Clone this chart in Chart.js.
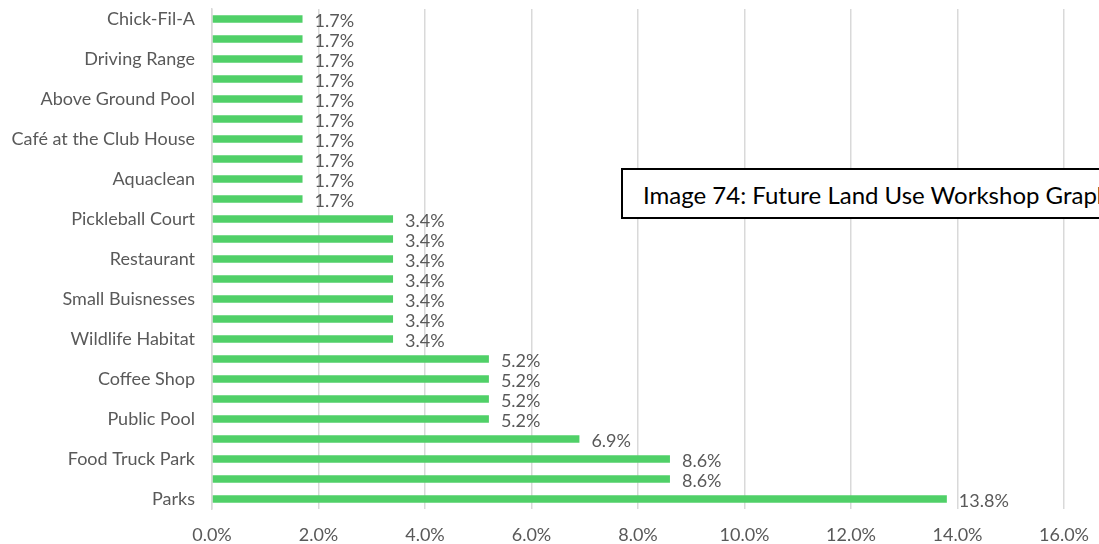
<!DOCTYPE html>
<html>
<head>
<meta charset="utf-8">
<script src="https://cdn.jsdelivr.net/npm/chart.js@4"></script>
<style>
  html, body { margin: 0; padding: 0; background: #fff; overflow: hidden; }
  #wrap { position: relative; width: 1099px; height: 544px; }
  #caption {
    position: absolute; left: 621px; top: 168px; width: 560px; height: 51px;
    border: 2px solid #000; background: #fff; box-sizing: border-box;
    font-family: Lato, "Open Sans", sans-serif; font-size: 24px; color: #000;
    padding: 10px 0 0 20px; white-space: nowrap;
  }
</style>
</head>
<body>
<div id="wrap">
  <canvas id="landUseChart" width="1099" height="544"></canvas>
  <div id="caption">Image 74: Future Land Use Workshop Graph</div>
</div>
<script>
// Responses per amenity, top to bottom (blank names are rows whose label is skipped on the axis)
const categories = [
    'Chick-Fil-A', '', 'Driving Range', '', 'Above Ground Pool', '',
    'Café at the Club House', '', 'Aquaclean', '', 'Pickleball Court', '',
    'Restaurant', '', 'Small Buisnesses', '', 'Wildlife Habitat', '',
    'Coffee Shop', '', 'Public Pool', '', 'Food Truck Park', '', 'Parks'
];
const percentages = [
    1.7, 1.7, 1.7, 1.7, 1.7, 1.7, 1.7, 1.7, 1.7, 1.7,
    3.4, 3.4, 3.4, 3.4, 3.4, 3.4, 3.4,
    5.2, 5.2, 5.2, 5.2,
    6.9, 8.6, 8.6, 13.8
];
const xTicks = [0, 2, 4, 6, 8, 10, 12, 14, 16];

const fontFamily = 'Lato, "Open Sans", sans-serif';
const fontSize = 18;
const textColor = '#595959';

// Draws the percentage just past the end of each bar
const valueLabels = {
    id: 'valueLabels',
    afterDatasetsDraw(chart) {
        const ctx = chart.ctx;
        const meta = chart.getDatasetMeta(0);
        ctx.save();
        ctx.font = fontSize + 'px ' + fontFamily;
        ctx.fillStyle = textColor;
        ctx.textAlign = 'left';
        ctx.textBaseline = 'middle';
        meta.data.forEach((bar, i) => {
            ctx.fillText(percentages[i].toFixed(1) + '%', bar.x + 12, bar.y + 2);
        });
        ctx.restore();
    }
};

const ctxLandUse = document.getElementById('landUseChart').getContext('2d');
const landUseChart = new Chart(ctxLandUse, {
    type: 'bar',
    data: {
        labels: categories,
        datasets: [{
            data: percentages,
            backgroundColor: '#50D068',
            borderWidth: 0,
            barPercentage: 0.37,
            categoryPercentage: 1
        }]
    },
    options: {
        indexAxis: 'y',
        responsive: false,
        animation: false,
        layout: { padding: { top: 9, right: 35, left: 0, bottom: 0 } },
        plugins: {
            legend: { display: false },
            tooltip: { enabled: false }
        },
        scales: {
            x: {
                min: 0,
                max: 16,
                afterBuildTicks(scale) {
                    scale.ticks = xTicks.map(v => ({ value: v }));
                },
                afterFit(scale) {
                    scale.height = 35;
                    scale.paddingLeft = 0;
                    scale.paddingRight = 0;
                },
                grid: { color: '#d9d9d9', lineWidth: 1.5, drawTicks: false },
                border: { display: false },
                ticks: {
                    padding: 15,
                    color: textColor,
                    font: { family: fontFamily, size: fontSize },
                    callback: v => v.toFixed(1) + '%'
                }
            },
            y: {
                afterFit(scale) {
                    scale.width = 212;
                    scale.paddingTop = 0;
                    scale.paddingBottom = 0;
                },
                grid: { display: false, drawTicks: false },
                border: { display: true, color: '#d9d9d9', width: 1.5 },
                ticks: {
                    autoSkip: false,
                    padding: 17,
                    color: textColor,
                    font: { family: fontFamily, size: fontSize }
                }
            }
        }
    },
    plugins: [valueLabels]
});
</script>
</body>
</html>
